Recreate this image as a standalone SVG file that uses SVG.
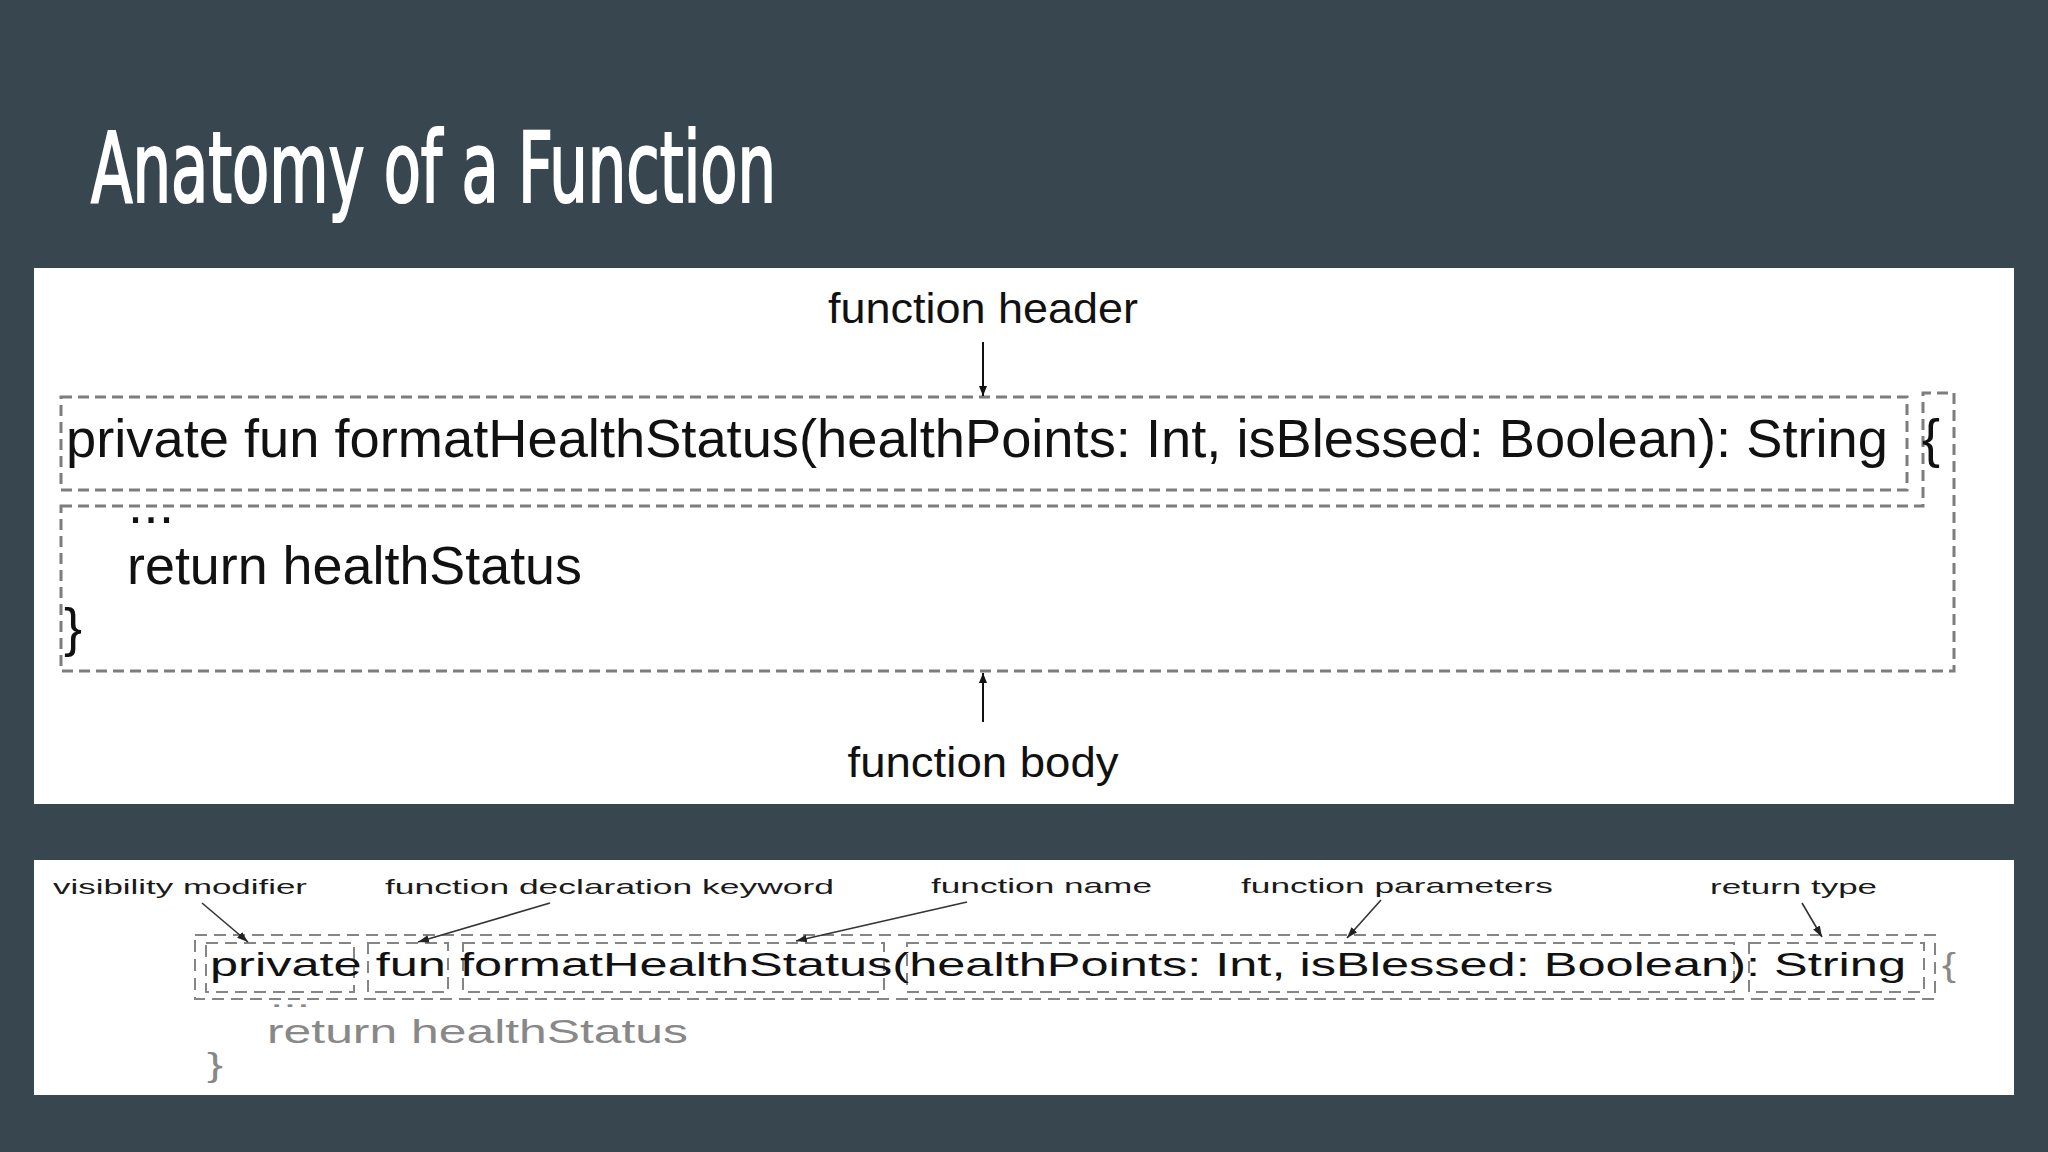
<svg xmlns="http://www.w3.org/2000/svg" width="2048" height="1152" viewBox="0 0 2048 1152">
  <defs>
    <style>
      .panel { fill: #ffffff; }
      .title { font-family: "Liberation Sans Narrow", "DejaVu Sans Condensed", "Liberation Sans", sans-serif; font-size: 98px; fill: #ffffff; stroke: #ffffff; stroke-width: 2.2; }
      .code { font-family: "Liberation Sans", Arial, sans-serif; font-size: 54px; fill: #111111; }
      .lbl { font-family: "Liberation Sans", Arial, sans-serif; font-size: 43px; fill: #111111; text-anchor: middle; }
      .bcode { font-family: "Liberation Sans", Arial, sans-serif; font-size: 33px; fill: #111111; }
      .bgray { font-family: "Liberation Sans", Arial, sans-serif; font-size: 33px; fill: #888888; }
      .blbl { font-family: "Liberation Sans", Arial, sans-serif; font-size: 21px; fill: #1a1a1a; }
      .dtop { fill: none; stroke: #7d7d7d; stroke-width: 3; stroke-dasharray: 11 6; }
      .dbot { fill: none; stroke: #858585; stroke-width: 2; stroke-dasharray: 12 7; }
      .arr { fill: none; stroke: #111111; stroke-width: 2; }
      .arrb { fill: none; stroke: #333333; stroke-width: 1.6; }
    </style>
    <marker id="ah" viewBox="0 0 10 10" refX="10" refY="5" markerWidth="10" markerHeight="10" markerUnits="userSpaceOnUse" orient="auto">
      <path d="M0,1 L10,5 L0,9 Z" fill="#111111"/>
    </marker>
    <marker id="ahb" viewBox="0 0 10 10" refX="10" refY="5" markerWidth="11" markerHeight="11" markerUnits="userSpaceOnUse" orient="auto">
      <path d="M0,1.5 L10,5 L0,8.5 Z" fill="#222222"/>
    </marker>
  </defs>

  <rect x="0" y="0" width="2048" height="1152" fill="#37464f"/>

  <g id="title">
    <text class="title" x="91" y="202" textLength="685" lengthAdjust="spacingAndGlyphs">Anatomy of a Function</text>
  </g>

  <!-- Top panel -->
  <rect class="panel" x="34" y="268" width="1980" height="536"/>

  <g id="label-function-header">
    <text class="lbl" x="983" y="323" textLength="310" lengthAdjust="spacingAndGlyphs">function header</text>
  </g>
  <g id="function-header-box">
    <rect class="dtop" x="61" y="397" width="1846" height="93"/>
    <text class="code" x="66" y="457" textLength="1822" lengthAdjust="spacingAndGlyphs">private fun formatHealthStatus(healthPoints: Int, isBlessed: Boolean): String</text>
  </g>
  <g id="function-body-box">
    <path class="dtop" d="M61,506 L1923,506 L1923,393 L1954,393 L1954,671 L61,671 Z"/>
    <text class="code" x="1922" y="457">{</text>
    <text class="code" x="128" y="523" textLength="46" lengthAdjust="spacing">...</text>
    <text class="code" x="127" y="584" textLength="455" lengthAdjust="spacingAndGlyphs">return healthStatus</text>
    <text class="code" x="64" y="646">}</text>
  </g>
  <g id="label-function-body">
    <text class="lbl" x="983" y="777" textLength="271" lengthAdjust="spacingAndGlyphs">function body</text>
  </g>

  <!-- Bottom panel -->
  <rect class="panel" x="34" y="860" width="1980" height="235"/>

  <g id="label-visibility-modifier">
    <text class="blbl" x="53" y="894" textLength="254" lengthAdjust="spacingAndGlyphs">visibility modifier</text>
  </g>
  <g id="label-declaration-keyword">
    <text class="blbl" x="385" y="894" textLength="449" lengthAdjust="spacingAndGlyphs">function declaration keyword</text>
  </g>
  <g id="label-function-name">
    <text class="blbl" x="931" y="893" textLength="221" lengthAdjust="spacingAndGlyphs">function name</text>
  </g>
  <g id="label-function-parameters">
    <text class="blbl" x="1241" y="893" textLength="312" lengthAdjust="spacingAndGlyphs">function parameters</text>
  </g>
  <g id="label-return-type">
    <text class="blbl" x="1710" y="894" textLength="167" lengthAdjust="spacingAndGlyphs">return type</text>
  </g>

  <g id="header-outer-box">
    <rect class="dbot" x="195" y="935" width="1740" height="64"/>
  </g>
  <g id="box-private"><rect class="dbot" x="206" y="943" width="148" height="49"/></g>
  <g id="box-fun"><rect class="dbot" x="368" y="943" width="80" height="49"/></g>
  <g id="box-name"><rect class="dbot" x="463" y="943" width="421" height="49"/></g>
  <g id="box-params"><rect class="dbot" x="907" y="943" width="827" height="49"/></g>
  <g id="box-return"><rect class="dbot" x="1749" y="943" width="175" height="49"/></g>

  <g id="bottom-code">
    <text class="bcode" x="210" y="976" textLength="1696" lengthAdjust="spacingAndGlyphs">private fun formatHealthStatus(healthPoints: Int, isBlessed: Boolean): String</text>
    <text class="bgray" x="1942" y="976" textLength="14" lengthAdjust="spacingAndGlyphs">{</text>
    <text class="bgray" x="270" y="1007" style="font-size:24px" textLength="40" lengthAdjust="spacingAndGlyphs">...</text>
    <text class="bgray" x="267" y="1043" textLength="421" lengthAdjust="spacingAndGlyphs">return healthStatus</text>
    <text class="bgray" x="207" y="1076" textLength="16" lengthAdjust="spacingAndGlyphs">}</text>
  </g>

  <g id="connectors">
    <line class="arr" x1="983" y1="342" x2="983" y2="396" marker-end="url(#ah)"/>
    <line class="arr" x1="983" y1="722" x2="983" y2="673" marker-end="url(#ah)"/>
    <line class="arrb" x1="202" y1="903" x2="248" y2="942" marker-end="url(#ahb)"/>
    <line class="arrb" x1="550" y1="903" x2="418" y2="942" marker-end="url(#ahb)"/>
    <line class="arrb" x1="967" y1="902" x2="796" y2="941" marker-end="url(#ahb)"/>
    <line class="arrb" x1="1381" y1="900" x2="1347" y2="938" marker-end="url(#ahb)"/>
    <line class="arrb" x1="1802" y1="903" x2="1822" y2="937" marker-end="url(#ahb)"/>
  </g>
</svg>
